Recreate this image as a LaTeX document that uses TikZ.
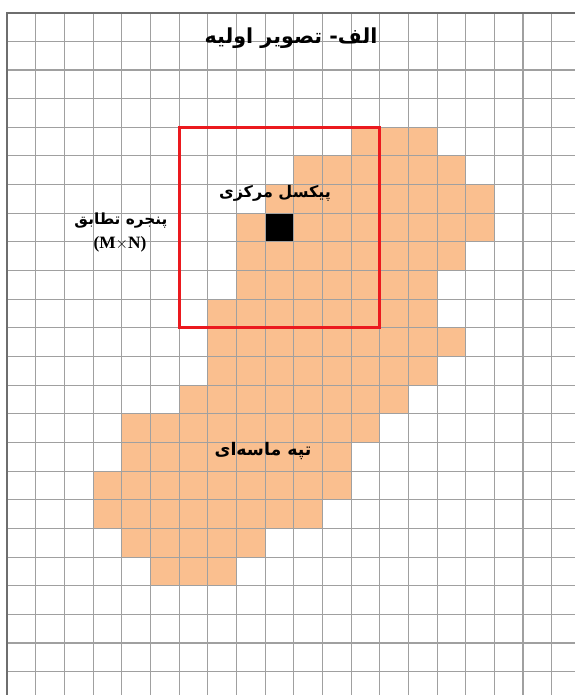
\documentclass[tikz,border=0pt]{standalone}
\usepackage{fontspec}
\setmainfont{Liberation Serif}
\newfontfamily\farsi[Script=Arabic]{DejaVu Sans}
\TeXXeTstate=1
\definecolor{sand}{RGB}{250,191,143}
\definecolor{gridgray}{RGB}{160,160,160}
\definecolor{bordergray}{RGB}{110,110,110}
\definecolor{winred}{RGB}{235,25,30}
\tikzset{
  gridline/.style={draw=gridgray, line width=0.8pt},
  borderline/.style={draw=bordergray, line width=1.4pt},
  cell/.style={fill=sand},
  centercell/.style={fill=black},
  window/.style={draw=winred, line width=2.3pt},
  lbl/.style={inner sep=0pt, text=black, font=\farsi\bfseries\fontsize{13}{15}\selectfont},
  latinlbl/.style={inner sep=0pt, text=black, font=\bfseries\fontsize{13}{15}\selectfont}
}
\begin{document}
\begin{tikzpicture}[x=0.75pt,y=-0.75pt]
\useasboundingbox (0,0) rectangle (575,695);
\fill[white] (0,0) rectangle (575,695);
\def\xo{7.3}\def\yo{12.7}\def\cw{28.65}
% sand cells: row / first col / last col
\foreach \r/\a/\b in {4/12/14,5/10/15,6/9/16,7/8/16,8/8/15,9/8/14,10/7/14,11/7/15,12/7/14,13/6/13,14/4/12,15/4/11,16/3/11,17/3/10,18/4/8,19/5/7}{
  \fill[cell] ({\xo+\cw*\a},{\yo+\cw*\r}) rectangle ({\xo+\cw*(\b+1)},{\yo+\cw*(\r+1)});
}
% central pixel
\fill[centercell] ({\xo+\cw*9},{\yo+\cw*7}) rectangle ({\xo+\cw*10},{\yo+\cw*8});
% grid
\foreach \i in {1,...,19}{
  \draw[gridline] ({\xo+\cw*\i},\yo) -- ({\xo+\cw*\i},695);
}
\foreach \j in {1,...,23}{
  \draw[gridline] (\xo,{\yo+\cw*\j}) -- (575,{\yo+\cw*\j});
}
\draw[borderline] (\xo,695) -- (\xo,\yo) -- (575,\yo);
% matching window
\draw[window] ({\xo+\cw*6},{\yo+\cw*4}) rectangle ({\xo+\cw*13},{\yo+\cw*11});
% labels
\node[lbl, font=\farsi\bfseries\fontsize{15.5}{18}\selectfont] (title) at (291,38) {\beginR الف- تصویر اولیه\endR};
\node[lbl, font=\farsi\bfseries\fontsize{12}{14}\selectfont] (center) at (275,193) {\beginR پیکسل مرکزی\endR};
\node[lbl, font=\farsi\bfseries\fontsize{11.5}{14}\selectfont] (win) at (121,221) {\beginR پنجره تطابق\endR};
\node[latinlbl] (size) at (120,244) {(M$\times$N)};
\node[lbl] (dune) at (263,451) {\beginR تپه ماسه‌ای\endR};
\end{tikzpicture}
\end{document}
